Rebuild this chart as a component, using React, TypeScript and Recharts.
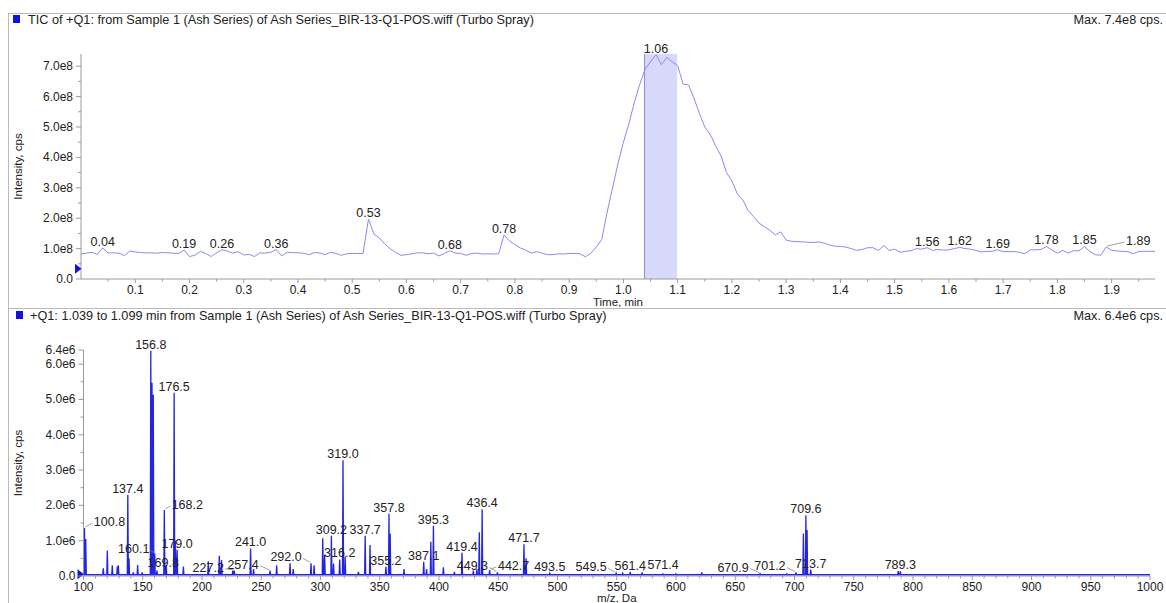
import React from 'react';
import {
  LineChart,
  Line,
  XAxis,
  YAxis,
  ReferenceArea,
  ReferenceLine,
  ReferenceDot,
  LabelList,
} from 'recharts';

// TIC trace (time in min, intensity in 1e8 cps)
const TIC_TIME = [
  0.0, 0.01, 0.02, 0.03, 0.04, 0.05, 0.06, 0.07, 0.08, 0.09,
  0.1, 0.11, 0.12, 0.13, 0.14, 0.15, 0.16, 0.17, 0.18, 0.19,
  0.2, 0.21, 0.22, 0.23, 0.24, 0.25, 0.26, 0.27, 0.28, 0.29,
  0.3, 0.31, 0.32, 0.33, 0.34, 0.35, 0.36, 0.37, 0.38, 0.39,
  0.4, 0.41, 0.42, 0.43, 0.44, 0.45, 0.46, 0.47, 0.48, 0.49,
  0.5, 0.51, 0.52, 0.53, 0.54, 0.55, 0.56, 0.57, 0.58, 0.59,
  0.6, 0.61, 0.62, 0.63, 0.64, 0.65, 0.66, 0.67, 0.68, 0.69,
  0.7, 0.71, 0.72, 0.73, 0.74, 0.75, 0.76, 0.77, 0.78, 0.79,
  0.8, 0.81, 0.82, 0.83, 0.84, 0.85, 0.86, 0.87, 0.88, 0.89,
  0.9, 0.91, 0.92, 0.93, 0.94, 0.95, 0.96, 0.97, 0.98, 0.99,
  1.0, 1.01, 1.02, 1.03, 1.04, 1.05, 1.06, 1.07, 1.08, 1.09,
  1.1, 1.11, 1.12, 1.13, 1.14, 1.15, 1.16, 1.17, 1.18, 1.19,
  1.2, 1.21, 1.22, 1.23, 1.24, 1.25, 1.26, 1.27, 1.28, 1.29,
  1.3, 1.31, 1.32, 1.33, 1.34, 1.35, 1.36, 1.37, 1.38, 1.39,
  1.4, 1.41, 1.42, 1.43, 1.44, 1.45, 1.46, 1.47, 1.48, 1.49,
  1.5, 1.51, 1.52, 1.53, 1.54, 1.55, 1.56, 1.57, 1.58, 1.59,
  1.6, 1.61, 1.62, 1.63, 1.64, 1.65, 1.66, 1.67, 1.68, 1.69,
  1.7, 1.71, 1.72, 1.73, 1.74, 1.75, 1.76, 1.77, 1.78, 1.79,
  1.8, 1.81, 1.82, 1.83, 1.84, 1.85, 1.86, 1.87, 1.88, 1.89,
  1.9, 1.91, 1.92, 1.93, 1.94, 1.95, 1.96, 1.97, 1.98,
];
const TIC_INTENSITY_E8 = [
  0.82, 0.85, 0.88, 0.81, 1.02, 0.86, 0.86, 0.85, 0.77, 0.92,
  0.89, 0.87, 0.86, 0.86, 0.85, 0.87, 0.86, 0.85, 0.84, 0.95,
  0.74, 0.78, 0.91, 0.84, 0.74, 0.86, 0.96, 0.92, 0.85, 0.9,
  0.79, 0.81, 0.74, 0.86, 0.85, 0.88, 0.97, 0.76, 0.88, 0.87,
  0.86, 0.85, 0.8, 0.87, 0.86, 0.8, 0.88, 0.84, 0.78, 0.83,
  0.84, 0.84, 0.84, 1.97, 1.48, 1.35, 1.15, 1.0, 0.87, 0.78,
  0.8, 0.83, 0.86, 0.86, 0.83, 0.85, 0.76, 0.84, 0.93, 0.85,
  0.84, 0.78, 0.84, 0.85, 0.82, 0.83, 0.82, 0.83, 1.45, 1.25,
  1.13, 1.02, 0.95, 0.85, 0.9, 0.85, 0.8, 0.8, 0.83, 0.82,
  0.84, 0.84, 0.83, 0.73, 0.85, 1.05, 1.3, 2.2, 3.0, 3.8,
  4.5, 5.1, 5.8, 6.4, 6.9, 7.15, 7.38, 7.05, 7.29, 7.14,
  7.02, 6.41, 6.38, 5.95, 5.45, 5.0, 4.75, 4.38, 4.05, 3.5,
  3.22, 2.8, 2.6, 2.25, 2.05, 1.84, 1.72, 1.6, 1.45, 1.55,
  1.28, 1.24, 1.23, 1.22, 1.21, 1.2, 1.22, 1.18, 1.12, 1.08,
  1.07, 1.05, 1.0, 0.94, 0.97, 1.03, 1.03, 0.94, 1.1, 0.94,
  0.98, 0.88, 0.91, 0.93, 1.0, 0.98, 1.03, 0.94, 0.97, 0.95,
  0.96, 1.0, 1.04, 1.0, 0.98, 0.94, 0.89, 0.91, 0.91, 0.96,
  0.9, 0.9, 0.9, 0.88, 0.83, 0.96, 0.96, 0.97, 1.07, 0.95,
  0.85, 0.94, 0.85, 0.93, 0.93, 1.07, 0.9, 0.8, 0.78, 1.05,
  0.95, 0.92, 0.91, 0.9, 0.83, 0.91, 0.91, 0.91, 0.91,
];
const TIC_PEAK_LABELS = [
  '0.04', '0.19', '0.26', '0.36', '0.53', '0.68', '0.78',
  '1.06', '1.56', '1.62', '1.69', '1.78', '1.85', '1.89',
];
const TIC_X_MAJOR = [0.1, 0.2, 0.3, 0.4, 0.5, 0.6, 0.7, 0.8, 0.9, 1.0, 1.1, 1.2, 1.3, 1.4, 1.5, 1.6, 1.7, 1.8, 1.9];
const TIC_Y_MAJOR = [0, 1e8, 2e8, 3e8, 4e8, 5e8, 6e8, 7e8];
const XIC_WINDOW = [1.039, 1.099];

// mass spectrum peaks (m/z, intensity in 1e6 cps)
const MS_PEAK_MZ = [
  100.8, 101.9, 116.7, 120.1, 124.3, 128.5, 129.4, 137.4, 138.4, 142.0,
  145.7, 149.5, 156.8, 157.8, 158.9, 160.1, 162.0, 168.2, 169.8, 176.5,
  177.5, 179.0, 184.3, 205.3, 214.6, 216.5, 226.0, 227.2, 241.0, 243.5,
  257.4, 263.0, 274.3, 277.0, 292.0, 294.6, 301.9, 303.5, 309.2, 311.0,
  316.2, 319.0, 320.8, 332.0, 337.7, 341.8, 355.2, 357.8, 358.8, 370.5,
  387.1, 389.5, 393.1, 395.3, 403.7, 413.0, 419.4, 429.0, 432.0, 434.0,
  436.4, 442.7, 449.3, 471.7, 473.5, 493.5, 549.5, 555.0, 561.4, 571.4,
  589.0, 600.0, 621.8, 670.9, 693.5, 701.2, 707.5, 709.6, 710.6, 713.7,
  787.5, 789.3,
];
const MS_PEAK_INTENSITY_E6 = [
  1.36, 1.05, 0.22, 0.72, 0.3, 0.27, 0.3, 2.3, 0.5, 0.1,
  0.31, 0.1, 6.38, 5.47, 5.13, 0.64, 0.15, 1.87, 0.3, 5.19,
  1.0, 0.74, 0.27, 0.42, 0.57, 0.45, 0.15, 0.15, 0.78, 0.2,
  0.15, 0.3, 0.36, 0.2, 0.36, 0.3, 1.07, 0.6, 1.14, 0.35,
  0.47, 3.28, 0.55, 0.12, 1.14, 0.88, 0.26, 1.76, 1.2, 0.2,
  0.4, 0.2, 0.97, 1.42, 0.25, 0.12, 0.66, 0.15, 0.2, 1.24,
  1.89, 0.17, 0.1, 0.9, 0.5, 0.08, 0.08, 0.08, 0.12, 0.1,
  0.06, 0.06, 0.1, 0.07, 0.06, 0.1, 1.2, 1.72, 1.3, 0.18,
  0.14, 0.13,
];
const MS_PEAK_LABELS = [
  '100.8', '137.4', '156.8', '160.1', '168.2', '169.8', '176.5', '179.0',
  '227.2', '241.0', '257.4', '292.0', '309.2', '316.2', '319.0', '337.7',
  '355.2', '357.8', '387.1', '395.3', '419.4', '436.4', '442.7', '449.3',
  '471.7', '493.5', '549.5', '561.4', '571.4', '670.9', '701.2', '709.6',
  '713.7', '789.3',
];
const MS_BASELINE_E6 = 0.035;
const MS_X_MAJOR = [100, 150, 200, 250, 300, 350, 400, 450, 500, 550, 600, 650, 700, 750, 800, 850, 900, 950, 1000];
const MS_Y_MAJOR = [0, 1e6, 2e6, 3e6, 4e6, 5e6, 6e6, 6.4e6];

// labels that sit beside their peak with a leader line: [dx, dy]
const LABEL_SHIFT: Record<string, [number, number]> = {
  '1.89': [32, 0],
  '100.8': [25, 0],
  '168.2': [23, 1],
  '160.1': [-21, 2],
  '169.8': [-3, 4],
  '227.2': [-26, 3],
  '257.4': [-27, 0],
  '292.0': [-25, 0],
  '449.3': [-25, 0],
  '442.7': [24, 2],
  '549.5': [-25, 0],
  '571.4': [21, -1],
  '670.9': [-27, 0],
  '701.2': [-26, 0],
};

const ticData = TIC_TIME.map((t, i) => ({
  t,
  v: TIC_INTENSITY_E8[i] * 1e8,
  label: TIC_PEAK_LABELS.includes(t.toFixed(2)) ? t.toFixed(2) : null,
}));

const msData: { mz: number; v: number; label: string | null }[] = [
  { mz: 100, v: MS_BASELINE_E6 * 1e6, label: null },
];
MS_PEAK_MZ.forEach((mz, i) => {
  const name = mz.toFixed(1);
  msData.push({ mz: mz - 0.45, v: MS_BASELINE_E6 * 1e6, label: null });
  msData.push({
    mz,
    v: MS_PEAK_INTENSITY_E6[i] * 1e6,
    label: MS_PEAK_LABELS.includes(name) ? name : null,
  });
  msData.push({ mz: mz + 0.45, v: MS_BASELINE_E6 * 1e6, label: null });
});
msData.push({ mz: 1000, v: MS_BASELINE_E6 * 1e6, label: null });

const AXIS = '#9a9a9a';
const TEXT = '#222';

const ticXTicks = Array.from({ length: 39 }, (_, i) => +(0.05 * (i + 1)).toFixed(2));
const ticYTicks = Array.from({ length: 15 }, (_, i) => i * 0.5e8);
const msXTicks = Array.from({ length: 91 }, (_, i) => 100 + i * 10);
const msYTicks = [...Array.from({ length: 13 }, (_, i) => i * 0.5e6), 6.4e6];

function makeXTick(major: number[], fmt: (v: number) => string) {
  return (p: any) => {
    const v = p.payload.value;
    const isMajor = major.some((m) => Math.abs(m - v) < 1e-6);
    return (
      <g>
        <line x1={p.x} y1={p.y} x2={p.x} y2={p.y + (isMajor ? 4 : 2.5)} stroke={AXIS} />
        {isMajor && (
          <text x={p.x} y={p.y + 14.5} textAnchor="middle" fontSize={12} fill={TEXT}>
            {fmt(v)}
          </text>
        )}
      </g>
    );
  };
}

function makeYTick(major: number[], fmt: (v: number) => string) {
  return (p: any) => {
    const v = p.payload.value;
    const isMajor = major.some((m) => Math.abs(m - v) < 1);
    return (
      <g>
        <line x1={p.x - (isMajor ? 5 : 3)} y1={p.y} x2={p.x} y2={p.y} stroke={AXIS} />
        {isMajor && (
          <text x={p.x - 8} y={p.y + 4} textAnchor="end" fontSize={12} fill={TEXT}>
            {fmt(v)}
          </text>
        )}
      </g>
    );
  };
}

function PeakLabel(props: any) {
  const { value } = props;
  if (value === null || value === undefined || value === '') return null;
  const vb = props.viewBox || {};
  const px = vb.x ?? props.x;
  const py = vb.y ?? props.y;
  const [dx, dy] = LABEL_SHIFT[value] || [0, 0];
  const cx = px + dx;
  const base = py - 2 + dy;
  const w = String(value).length * 6.4;
  let leader = null;
  if (Math.abs(dx) > 10) {
    const ex = dx > 0 ? cx - w / 2 - 1 : cx + w / 2 + 1;
    leader = (
      <line x1={px + (dx > 0 ? 1 : -1)} y1={py - 1} x2={ex} y2={base - 3} stroke="#888" strokeWidth={0.8} />
    );
  }
  return (
    <g>
      {leader}
      <text x={cx} y={base} textAnchor="middle" fontSize={12.5} fill={TEXT}>
        {value}
      </text>
    </g>
  );
}

function Marker(p: any) {
  const { cx, cy } = p;
  return <polygon points={`${cx - 6},${cy - 5} ${cx + 0.5},${cy} ${cx - 6},${cy + 5}`} fill="#1414d8" />;
}

function PanelTitle({ top, square, left, text, max }: any) {
  return (
    <>
      <div style={{ position: 'absolute', left: square, top: top + 1, width: 7, height: 8, background: '#1010e0' }} />
      <div style={{ position: 'absolute', left, top, fontSize: 12.7, lineHeight: '12px', color: TEXT, whiteSpace: 'nowrap' }}>
        {text}
      </div>
      <div style={{ position: 'absolute', right: 3, top, fontSize: 12.7, lineHeight: '12px', color: TEXT, whiteSpace: 'nowrap' }}>
        {max}
      </div>
    </>
  );
}

export default function App() {
  return (
    <div
      style={{
        position: 'absolute',
        left: 0,
        top: 0,
        width: 1166,
        height: 603,
        background: '#fff',
        overflow: 'hidden',
        fontFamily: '"Liberation Sans", Arial, sans-serif',
      }}
    >
      <div style={{ position: 'absolute', left: 8, top: 13, width: 1170, height: 294, borderTop: '1px solid #bbb', borderLeft: '1px solid #bbb', borderBottom: '1px solid #bbb' }} />
      <div style={{ position: 'absolute', left: 8, top: 308, width: 1, height: 300, background: '#bbb' }} />

      <PanelTitle
        top={14}
        square={13}
        left={28}
        text="TIC of +Q1: from Sample 1 (Ash Series) of Ash Series_BIR-13-Q1-POS.wiff (Turbo Spray)"
        max="Max. 7.4e8 cps."
      />
      <PanelTitle
        top={310}
        square={16}
        left={30}
        text="+Q1: 1.039 to 1.099 min from Sample 1 (Ash Series) of Ash Series_BIR-13-Q1-POS.wiff (Turbo Spray)"
        max="Max. 6.4e6 cps."
      />

      <div style={{ position: 'absolute', left: 0, top: 0 }}>
        <LineChart width={1166} height={307} data={ticData} margin={{ top: 54, right: 11, bottom: 0, left: 0 }}>
          <ReferenceArea
            x1={XIC_WINDOW[0]}
            x2={XIC_WINDOW[1]}
            y1={0}
            y2={7.4e8}
            fill="#d8d8fa"
            fillOpacity={1}
            stroke="none"
          />
          <ReferenceLine x={XIC_WINDOW[0]} stroke="#8c8cc8" />
          <XAxis
            dataKey="t"
            type="number"
            domain={[0, 1.98]}
            ticks={ticXTicks}
            interval={0}
            tick={makeXTick(TIC_X_MAJOR, (v) => v.toFixed(1))}
            tickLine={false}
            tickSize={0}
            tickMargin={0}
            axisLine={{ stroke: AXIS }}
            height={28}
            label={{ value: 'Time, min', position: 'insideBottom', offset: 1, style: { fontSize: 11.5, fill: TEXT } }}
          />
          <YAxis
            type="number"
            domain={[0, 7.4e8]}
            ticks={ticYTicks}
            interval={0}
            tick={makeYTick(TIC_Y_MAJOR, (v) => (v === 0 ? '0.0' : `${(v / 1e8).toFixed(1)}e8`))}
            tickLine={false}
            tickSize={0}
            tickMargin={0}
            axisLine={{ stroke: AXIS }}
            width={81}
            label={{
              value: 'Intensity, cps',
              angle: -90,
              position: 'insideLeft',
              offset: 18,
              style: { textAnchor: 'middle', fontSize: 11.5, fill: TEXT },
            }}
          />
          <Line
            type="linear"
            dataKey="v"
            stroke="#8a8aee"
            strokeWidth={1}
            dot={false}
            isAnimationActive={false}
          >
            <LabelList dataKey="label" content={(p: any) => <PeakLabel {...p} />} />
          </Line>
          <ReferenceDot x={0} y={0.34e8} r={5} shape={(p: any) => <Marker {...p} />} />
        </LineChart>
      </div>

      <div style={{ position: 'absolute', left: 0, top: 307 }}>
        <LineChart width={1166} height={296} data={msData} margin={{ top: 43, right: 16, bottom: 0, left: 0 }}>
          <XAxis
            dataKey="mz"
            type="number"
            domain={[100, 1000]}
            ticks={msXTicks}
            interval={0}
            tick={makeXTick(MS_X_MAJOR, (v) => String(v))}
            tickLine={false}
            tickSize={0}
            tickMargin={0}
            axisLine={{ stroke: AXIS }}
            height={27}
            label={{ value: 'm/z, Da', position: 'insideBottom', offset: 1, style: { fontSize: 11.5, fill: TEXT } }}
          />
          <YAxis
            type="number"
            domain={[0, 6.4e6]}
            ticks={msYTicks}
            interval={0}
            tick={makeYTick(MS_Y_MAJOR, (v) => (v === 0 ? '0.0' : `${(v / 1e6).toFixed(1)}e6`))}
            tickLine={false}
            tickSize={0}
            tickMargin={0}
            axisLine={{ stroke: AXIS }}
            width={83.5}
            label={{
              value: 'Intensity, cps',
              angle: -90,
              position: 'insideLeft',
              offset: 18,
              style: { textAnchor: 'middle', fontSize: 11.5, fill: TEXT },
            }}
          />
          <Line
            type="linear"
            dataKey="v"
            stroke="#2424e4"
            strokeWidth={1.3}
            dot={false}
            isAnimationActive={false}
          >
            <LabelList dataKey="label" content={(p: any) => <PeakLabel {...p} />} />
          </Line>
          <ReferenceDot x={100} y={0.05e6} r={5} shape={(p: any) => <Marker {...p} />} />
        </LineChart>
      </div>
    </div>
  );
}
